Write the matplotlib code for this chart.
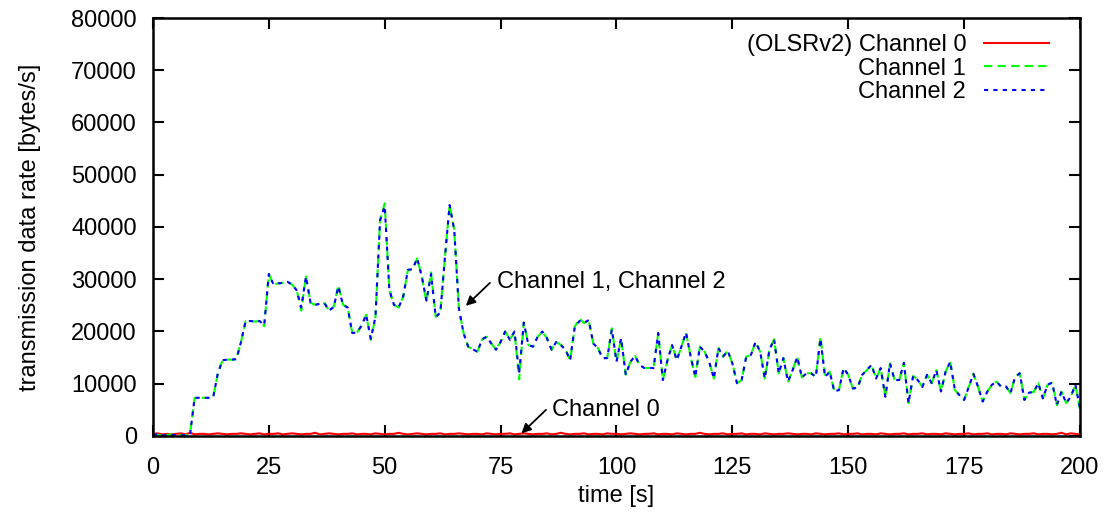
import matplotlib
matplotlib.use('Agg')
import matplotlib.pyplot as plt

plt.rcParams['font.family'] = ['Liberation Sans', 'DejaVu Sans']
plt.rcParams['font.size'] = 17

# time axis, one sample per second
time_s = list(range(0, 201))

# Channel 1 [kbytes/s]
ch1_k = [0.3, 0.2, 0.1, 0.2, 0.3, 0.1, 0.2, 0.1, 0.4, 7.3,
         7.3, 7.3, 7.3, 7.4, 12.0, 14.5, 14.6, 14.6, 14.7, 18.0,
         22.0, 22.0, 21.9, 22.0, 21.0, 31.0, 29.0, 29.2, 29.3, 29.5,
         29.0, 27.9, 24.0, 30.7, 25.5, 25.1, 25.3, 25.4, 24.0, 24.7,
         28.9, 25.1, 24.6, 19.7, 19.8, 21.1, 23.2, 18.4, 22.8, 41.3,
         44.5, 27.9, 25.1, 24.6, 26.7, 31.8, 31.9, 34.0, 30.5, 25.7,
         31.3, 22.8, 23.6, 34.3, 44.2, 39.4, 24.4, 19.7, 17.1, 16.6,
         16.1, 18.5, 19.0, 17.7, 16.5, 18.0, 20.0, 18.4, 20.0, 10.8,
         21.7, 17.4, 17.1, 19.0, 20.0, 18.7, 16.5, 18.0, 17.4, 16.5,
         14.5, 20.9, 22.5, 21.6, 22.2, 17.7, 16.8, 14.9, 14.9, 20.6,
         14.2, 18.7, 11.7, 14.2, 15.3, 13.6, 13.0, 13.0, 13.0, 19.7,
         10.7, 14.5, 17.4, 14.5, 17.1, 19.8, 15.2, 11.3, 17.1, 16.1,
         14.2, 11.0, 16.8, 15.2, 16.3, 13.9, 10.1, 10.7, 15.2, 15.5,
         18.0, 16.1, 11.0, 16.5, 18.5, 12.0, 14.9, 10.4, 12.6, 15.1,
         11.2, 12.0, 12.0, 11.3, 19.0, 11.3, 12.3, 8.5, 8.8, 13.0,
         11.7, 9.1, 9.2, 11.7, 12.6, 13.6, 11.0, 13.0, 7.5, 13.9,
         10.7, 10.7, 14.0, 6.3, 11.5, 10.7, 9.4, 11.7, 10.1, 12.6,
         8.5, 12.3, 14.2, 8.8, 7.8, 6.9, 9.4, 11.9, 9.4, 6.6,
         8.5, 9.8, 10.4, 9.4, 9.5, 8.2, 11.3, 12.0, 6.9, 8.3,
         8.4, 10.1, 7.2, 9.8, 10.2, 5.9, 8.5, 6.3, 7.5, 9.8,
         5.0]

# Channel 2 [kbytes/s], almost the same as channel 1
ch2_k = [0.2, 0.3, 0.2, 0.1, 0.2, 0.2, 0.1, 0.2, 0.3, 7.3,
         7.3, 7.3, 7.3, 7.4, 12.0, 14.5, 14.6, 14.6, 14.7, 18.0,
         22.0, 22.0, 21.9, 22.0, 21.2, 31.0, 29.0, 29.2, 29.3, 29.5,
         29.0, 27.9, 24.6, 30.5, 25.5, 25.1, 25.3, 25.4, 24.0, 24.7,
         28.6, 25.1, 24.6, 19.7, 19.8, 21.1, 23.2, 18.6, 22.8, 41.3,
         44.0, 27.9, 25.1, 24.6, 26.7, 31.8, 31.9, 34.0, 30.5, 25.9,
         31.0, 22.8, 23.6, 34.3, 44.2, 39.4, 24.4, 19.7, 17.1, 16.6,
         16.1, 18.5, 19.0, 17.7, 16.5, 18.0, 20.0, 18.4, 20.0, 12.0,
         21.7, 17.4, 17.1, 19.0, 20.0, 18.7, 16.5, 18.0, 17.4, 16.5,
         14.5, 20.9, 22.0, 21.6, 22.2, 17.7, 16.8, 14.9, 14.9, 20.4,
         14.2, 18.7, 11.7, 14.2, 15.3, 13.6, 13.0, 13.0, 13.0, 19.7,
         10.7, 14.5, 17.4, 14.5, 17.1, 19.8, 15.2, 11.3, 17.1, 16.1,
         14.2, 11.0, 16.8, 15.2, 16.3, 13.9, 10.1, 10.7, 15.2, 15.5,
         18.0, 16.1, 11.0, 16.5, 18.5, 12.0, 14.9, 10.4, 12.6, 15.1,
         11.2, 12.0, 12.0, 11.3, 18.6, 11.3, 12.3, 8.5, 8.8, 13.0,
         11.7, 9.1, 9.2, 11.7, 12.6, 13.6, 11.0, 13.0, 7.5, 13.9,
         10.7, 10.7, 14.0, 6.3, 11.5, 10.7, 9.4, 11.7, 10.1, 12.6,
         8.5, 12.3, 14.2, 8.8, 7.8, 6.9, 9.4, 11.9, 9.4, 6.6,
         8.5, 9.8, 10.4, 9.4, 9.5, 8.2, 11.3, 12.0, 6.9, 8.3,
         8.4, 10.1, 7.2, 9.8, 10.2, 5.9, 8.5, 6.3, 7.5, 9.8,
         5.3]

# Channel 0 (OLSRv2 control traffic) [kbytes/s]
ch0_k = [0.4, 0.5, 0.3, 0.4, 0.3, 0.4, 0.5, 0.3, 0.6, 0.3,
         0.4, 0.4, 0.3, 0.4, 0.5, 0.4, 0.3, 0.4, 0.4, 0.5,
         0.4, 0.3, 0.4, 0.5, 0.3, 0.4, 0.4, 0.5, 0.3, 0.4,
         0.5, 0.4, 0.3, 0.4, 0.4, 0.6, 0.3, 0.4, 0.5, 0.4,
         0.3, 0.4, 0.4, 0.5, 0.3, 0.4, 0.4, 0.3, 0.5, 0.4,
         0.3, 0.4, 0.4, 0.6, 0.4, 0.3, 0.4, 0.5, 0.4, 0.3,
         0.4, 0.4, 0.5, 0.3, 0.4, 0.4, 0.5, 0.4, 0.3, 0.4,
         0.4, 0.3, 0.5, 0.4, 0.3, 0.4, 0.4, 0.5, 0.3, 0.4,
         0.5, 0.4, 0.3, 0.4, 0.4, 0.5, 0.3, 0.4, 0.6, 0.4,
         0.3, 0.4, 0.4, 0.5, 0.3, 0.4, 0.4, 0.3, 0.5, 0.4,
         0.4, 0.3, 0.4, 0.5, 0.4, 0.3, 0.4, 0.4, 0.5, 0.3,
         0.4, 0.4, 0.3, 0.5, 0.4, 0.3, 0.4, 0.4, 0.6, 0.4,
         0.3, 0.4, 0.4, 0.5, 0.3, 0.4, 0.4, 0.5, 0.3, 0.4,
         0.4, 0.3, 0.5, 0.4, 0.3, 0.4, 0.4, 0.5, 0.4, 0.3,
         0.4, 0.4, 0.3, 0.5, 0.4, 0.3, 0.4, 0.4, 0.5, 0.3,
         0.4, 0.4, 0.5, 0.3, 0.4, 0.4, 0.3, 0.5, 0.4, 0.3,
         0.4, 0.4, 0.5, 0.3, 0.4, 0.4, 0.5, 0.3, 0.4, 0.4,
         0.3, 0.5, 0.4, 0.3, 0.4, 0.4, 0.5, 0.3, 0.4, 0.4,
         0.5, 0.3, 0.4, 0.4, 0.3, 0.5, 0.4, 0.3, 0.4, 0.4,
         0.5, 0.3, 0.4, 0.4, 0.3, 0.4, 0.6, 0.3, 0.5, 0.4,
         0.3]

ch0 = [v * 1000 for v in ch0_k]
ch1 = [v * 1000 for v in ch1_k]
ch2 = [v * 1000 for v in ch2_k]

fig = plt.figure(figsize=(11.14, 5.19), dpi=100)
ax = fig.add_axes([0.1373, 0.160, 0.8322, 0.8053])

ax.plot(time_s, ch0, color='#ff0000', lw=1.5, label='(OLSRv2) Channel 0')
ax.plot(time_s, ch1, color='#00ff00', lw=1.5, linestyle=(0, (4, 2.5)), label='Channel 1')
ax.plot(time_s, ch2, color='#0000ff', lw=1.5, linestyle=(0, (2, 2.5)), label='Channel 2')

ax.set_xlim(0, 200)
ax.set_ylim(0, 80000)
ax.set_xticks(range(0, 201, 25))
ax.set_yticks(range(0, 80001, 10000))
ax.tick_params(direction='in', length=8, width=1.5, top=True, right=True)
ax.tick_params(axis='x', pad=15)
ax.tick_params(axis='y', pad=11.5)
for s in ax.spines.values():
    s.set_linewidth(1.8)

ax.set_xlabel('time [s]', labelpad=4.5)
ax.set_ylabel('transmission data rate [bytes/s]', labelpad=21.5)

ax.legend(loc='upper right', bbox_to_anchor=(0.977, 0.984), borderaxespad=0,
          frameon=False, markerfirst=False, handlelength=2.75,
          handletextpad=0.77, labelspacing=0.065, fontsize=17)

ax.annotate('', xy=(67.5, 24900), xytext=(72.7, 29300),
            arrowprops=dict(arrowstyle='-|>', color='black', lw=1.3,
                            mutation_scale=14, shrinkA=0, shrinkB=0))
ax.text(74.2, 29500, 'Channel 1, Channel 2', ha='left', va='center')

ax.annotate('', xy=(79.5, 500), xytext=(84.8, 5000),
            arrowprops=dict(arrowstyle='-|>', color='black', lw=1.3,
                            mutation_scale=14, shrinkA=0, shrinkB=0))
ax.text(86.0, 5000, 'Channel 0', ha='left', va='center')

plt.savefig('out.png')
